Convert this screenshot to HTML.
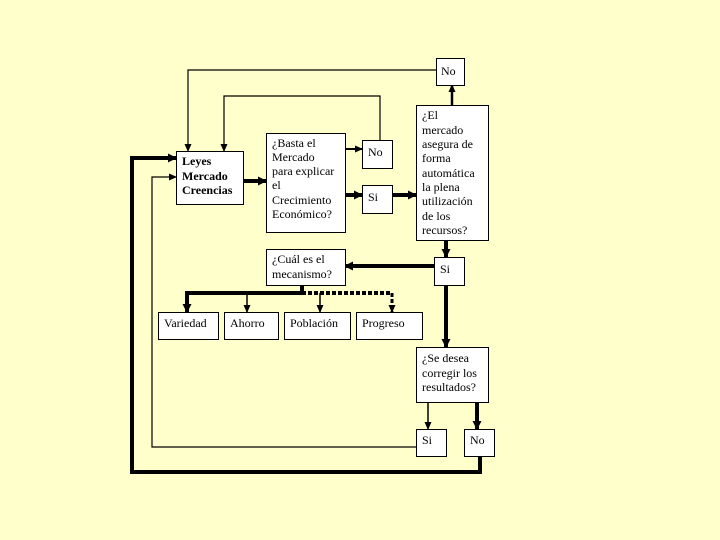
<!DOCTYPE html>
<html><head><style>
html,body{margin:0;padding:0;background:#FFFFCC;}
svg{display:block;}
text{font-family:"Liberation Serif",serif;font-size:12px;fill:#000;}
</style></head><body>
<svg width="720" height="540" viewBox="0 0 720 540">
<defs>
<marker id="a" markerWidth="10" markerHeight="10" refX="8" refY="5" orient="auto" markerUnits="userSpaceOnUse"><path d="M0,0.5 L9,5 L0,9.5 z" fill="#000"/></marker>
<marker id="b" markerWidth="8" markerHeight="8" refX="7" refY="4" orient="auto" markerUnits="userSpaceOnUse"><path d="M0,0.5 L8,4 L0,7.5 z" fill="#000"/></marker>
</defs>
<rect width="720" height="540" fill="#FFFFCC"/>
<g fill="none" stroke="#000">
<polyline points="436,70 188,70 188,151" stroke-width="1.2" marker-end="url(#b)"/>
<polyline points="380,140 380,96 224,96 224,151" stroke-width="1.2" marker-end="url(#b)"/>
<polyline points="480,456 480,472 132,472 132,158 176,158" stroke-width="4" marker-end="url(#a)"/>
<polyline points="416,447 152,447 152,177 176,177" stroke-width="1.2" marker-end="url(#b)"/>
<line x1="243" y1="181" x2="266" y2="181" stroke-width="4" marker-end="url(#a)"/>
<line x1="345" y1="149" x2="362" y2="149" stroke-width="2" marker-end="url(#b)"/>
<line x1="345" y1="195" x2="362" y2="195" stroke-width="4" marker-end="url(#a)"/>
<line x1="392" y1="195" x2="416" y2="195" stroke-width="4" marker-end="url(#a)"/>
<line x1="452" y1="105" x2="452" y2="85" stroke-width="2.5" marker-end="url(#b)"/>
<line x1="446" y1="240" x2="446" y2="257" stroke-width="4" marker-end="url(#a)"/>
<line x1="434" y1="266" x2="345" y2="266" stroke-width="4" marker-end="url(#a)"/>
<line x1="446" y1="285" x2="446" y2="347" stroke-width="4" marker-end="url(#a)"/>
<polyline points="302,285 302,293 187,293 187,312" stroke-width="4" marker-end="url(#a)"/>
<line x1="247" y1="293" x2="247" y2="312" stroke-width="1.5" marker-end="url(#b)"/>
<line x1="302" y1="293" x2="392" y2="293" stroke-width="4" stroke-dasharray="4,2"/>
<line x1="320" y1="293" x2="320" y2="312" stroke-width="1.5" marker-end="url(#b)"/>
<line x1="392" y1="293" x2="392" y2="312" stroke-width="3" stroke-dasharray="4,2" marker-end="url(#b)"/>
<line x1="428" y1="402" x2="428" y2="429" stroke-width="1.5" marker-end="url(#b)"/>
<line x1="477" y1="402" x2="477" y2="429" stroke-width="4" marker-end="url(#a)"/>
</g>
<g fill="#fff" stroke="#000" stroke-width="1">
<rect x="436.5" y="58.5" width="28" height="27"/>
<rect x="176.5" y="151.5" width="67" height="53"/>
<rect x="266.5" y="133.5" width="79" height="99"/>
<rect x="362.5" y="140.5" width="30" height="28"/>
<rect x="362.5" y="185.5" width="30" height="28"/>
<rect x="416.5" y="105.5" width="72" height="135"/>
<rect x="434.5" y="257.5" width="30" height="28"/>
<rect x="266.5" y="249.5" width="79" height="36"/>
<rect x="158.5" y="312.5" width="60" height="27"/>
<rect x="224.5" y="312.5" width="54" height="27"/>
<rect x="284.5" y="312.5" width="66" height="27"/>
<rect x="356.5" y="312.5" width="66" height="27"/>
<rect x="416.5" y="347.5" width="72" height="55"/>
<rect x="416.5" y="429.5" width="30" height="27"/>
<rect x="464.5" y="429.5" width="30" height="27"/>
</g>
<text x="441" y="75">No</text>
<text x="182" y="165" font-weight="bold">Leyes</text>
<text x="182" y="180" font-weight="bold">Mercado</text>
<text x="182" y="194" font-weight="bold">Creencias</text>
<text x="272" y="147">¿Basta el</text>
<text x="272" y="161">Mercado</text>
<text x="272" y="175">para explicar</text>
<text x="272" y="189">el</text>
<text x="272" y="204">Crecimiento</text>
<text x="272" y="218">Económico?</text>
<text x="368" y="156">No</text>
<text x="368" y="201">Si</text>
<text x="422" y="119">¿El</text>
<text x="422" y="134">mercado</text>
<text x="422" y="148">asegura de</text>
<text x="422" y="162">forma</text>
<text x="422" y="177">automática</text>
<text x="422" y="191">la plena</text>
<text x="422" y="205">utilización</text>
<text x="422" y="220">de los</text>
<text x="422" y="234">recursos?</text>
<text x="440" y="273">Si</text>
<text x="272" y="263">¿Cuál es el</text>
<text x="272" y="278">mecanismo?</text>
<text x="164" y="327">Variedad</text>
<text x="230" y="327">Ahorro</text>
<text x="290" y="327">Población</text>
<text x="362" y="327">Progreso</text>
<text x="422" y="362">¿Se desea</text>
<text x="422" y="377">corregir los</text>
<text x="422" y="391">resultados?</text>
<text x="422" y="444">Si</text>
<text x="470" y="444">No</text>
</svg>
</body></html>
